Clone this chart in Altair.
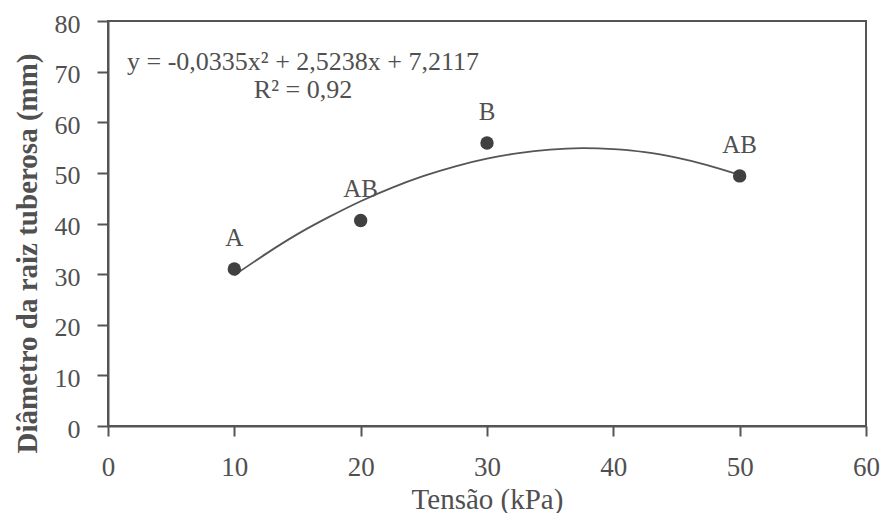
import altair as alt
import pandas as pd

# Observed means
tension = [10, 20, 30, 50]
diameter = [31.0, 40.6, 55.9, 49.4]
letters = ["A", "AB", "B", "AB"]

# Fitted curve
curve_x = [10, 12.5, 15, 17.5, 20, 22.5, 25, 27.5, 30, 32.5, 35, 37.5, 40, 42.5, 45, 47.5, 50]
curve_y = [29.8, 34.0, 37.9, 41.3, 44.4, 47.1, 49.4, 51.3, 52.8, 53.9, 54.6, 54.9, 54.7, 54.1, 53.0, 51.5, 49.6]

equation = "y = -0,0335x² + 2,5238x + 7,2117"
r2 = "R² = 0,92"

pts = pd.DataFrame({"x": tension, "y": diameter, "lab": letters})
crv = pd.DataFrame({"x": curve_x, "y": curve_y})

FONT = "Liberation Serif"
INK = "#505050"

xs = alt.Scale(domain=[0, 60], nice=False)
ys = alt.Scale(domain=[0, 80], nice=False)

xax = alt.Axis(values=[0, 10, 20, 30, 40, 50, 60], title="Tensão (kPa)", grid=False,
               tickSize=10, labelPadding=39, labelBaseline="alphabetic", labelFlush=False,
               labelFontSize=27, titleFontSize=29, titleFontWeight="normal",
               titleBaseline="alphabetic", titleY=82)
yax = alt.Axis(values=[0, 10, 20, 30, 40, 50, 60, 70, 80],
               title="Diâmetro da raiz tuberosa (mm)", grid=False,
               tickSize=11, labelPadding=17, labelFontSize=26, labelFlush=False,
               labelOffset=3,
               titleFontSize=29, titleFontWeight="bold",
               titleBaseline="middle", titleX=-81, titleY=232)

line = alt.Chart(crv).mark_line(color="#555555", strokeWidth=1.8, interpolate="natural").encode(
    x=alt.X("x:Q", scale=xs, axis=xax),
    y=alt.Y("y:Q", scale=ys, axis=yax),
)

dots = alt.Chart(pts).mark_circle(color="#404040", size=180, opacity=1).encode(
    x=alt.X("x:Q", scale=xs),
    y=alt.Y("y:Q", scale=ys),
)

labs = alt.Chart(pts).mark_text(font=FONT, fontSize=25, color=INK, dy=-31, baseline="middle").encode(
    x=alt.X("x:Q", scale=xs),
    y=alt.Y("y:Q", scale=ys),
    text="lab:N",
)

eq = alt.Chart(pd.DataFrame({"t": [equation]})).mark_text(
    font=FONT, fontSize=26, color=INK, align="center", baseline="middle"
).encode(x=alt.value(195), y=alt.value(41), text="t:N")

r2t = alt.Chart(pd.DataFrame({"t": [r2]})).mark_text(
    font=FONT, fontSize=26, color=INK, align="center", baseline="middle"
).encode(x=alt.value(195), y=alt.value(69), text="t:N")

chart = alt.layer(line, dots, labs, eq, r2t).properties(
    width=758, height=405,
    autosize=alt.AutoSizeParams(type="none"),
    padding={"left": 100, "top": 13, "right": 14, "bottom": 87},
    background="white",
).configure_view(
    stroke="#555555", strokeWidth=2
).configure_axis(
    labelFont=FONT, titleFont=FONT, labelColor=INK, titleColor=INK,
    domainColor="#555555", tickColor="#555555", domainWidth=2, tickWidth=2,
)

chart.save("out.html", embed_options={"renderer": "svg", "actions": False})
